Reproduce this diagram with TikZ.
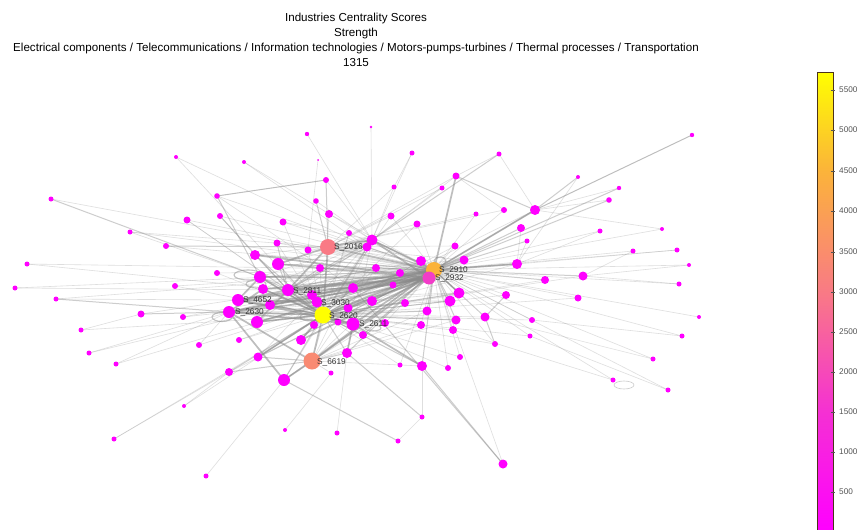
\documentclass[tikz,border=0pt]{standalone}
\usepackage{fontspec}
\setmainfont{Liberation Sans}
\definecolor{mag}{HTML}{FF00FF}
\definecolor{cyel}{HTML}{FFFF00}
\definecolor{corg}{HTML}{FBB33A}
\definecolor{csal}{HTML}{F97A85}
\definecolor{csal2}{HTML}{F98A72}
\definecolor{cpink}{HTML}{F23CC8}
\definecolor{edgec}{HTML}{8A8A8A}
\definecolor{labc}{HTML}{333333}
\definecolor{tickc}{HTML}{555555}
\pgfdeclarelayer{edgelayer}
\pgfsetlayers{edgelayer,main}
\tikzset{
  dot/.style={circle, inner sep=0pt, draw=none, fill=mag},
  le/.style={draw=edgec, line width=0.6pt, opacity=0.28},
  me/.style={draw=edgec, line width=1.0pt, opacity=0.42},
  de/.style={draw=edgec, line width=1.7pt, opacity=0.55},
  loopc/.style={draw=edgec, line width=1.1pt, opacity=0.5},
  lab/.style={font=\fontsize{8.3}{9}\selectfont, text=labc, inner sep=0pt, anchor=west},
  ttl/.style={font=\fontsize{11.6}{13}\selectfont, inner sep=0pt, anchor=base},
  cbl/.style={font=\fontsize{8.2}{9}\selectfont, text=tickc, inner sep=0pt, anchor=west}
}
\begin{document}
\begin{tikzpicture}[x=1pt,y=-1pt]
\useasboundingbox (0,0) rectangle (857,530);
% title
\node[ttl] (t1) at (356,21.5) {Industries Centrality Scores};
\node[ttl] (t2) at (356,36.5) {Strength};
\node[ttl] (t3) at (356,51.5) {Electrical components / Telecommunications / Information technologies / Motors-pumps-turbines / Thermal processes / Transportation};
\node[ttl] (t4) at (356,66.5) {1315};
% hubs
\node[dot, fill=cyel, minimum size=17pt] (A2620) at (323,315) {};
\node[dot, fill=corg, minimum size=16pt] (A2910) at (434,270) {};
\node[dot, fill=csal, minimum size=16pt] (A2016) at (328,247) {};
\node[dot, fill=csal2, minimum size=17pt] (A6619) at (312,361) {};
\node[dot, fill=cpink, minimum size=13pt] (A2932) at (429,278) {};
\node[dot, minimum size=13pt] (A2611) at (353,324) {};
\node[dot, minimum size=12pt] (A2811) at (288,290) {};
\node[dot, minimum size=11pt] (A3030) at (317,302) {};
\node[dot, minimum size=12pt] (A4652) at (238,300) {};
\node[dot, minimum size=12pt] (A2630) at (229,312) {};
% other nodes
\foreach \n/\x/\y/\r in {
p1/371/127/1.3, p2/307/134/2.2, p3/176/157/2, p4/244/162/2, p5/318/160/1,
p6/692/135/2.2, p7/412/153/2.5, p8/499/154/2.5, p9/456/176/3.5, p10/394/187/2.5,
p11/442/188/2.5, p12/578/177/2, p13/619/188/2.2, p14/609/200/2.8, p15/535/210/5,
p16/504/210/3, p17/476/214/2.5, p18/521/228/4, p19/527/241/2.5, p20/600/231/2.5,
p21/662/229/2, p22/326/180/3, p23/51/199/2.5, p24/217/196/2.8, p25/316/201/2.8,
p26/329/214/4, p27/391/216/3.5, p28/417/224/3.5, p29/187/220/3.5, p30/220/216/3,
p31/283/222/3.5, p32/130/232/2.5, p33/349/233/3, p34/166/246/3, p35/277/243/3.5,
p36/372/240/5.5, p37/367/247/4.5, p38/308/250/3.5, p39/255/255/5, p40/455/246/3.5,
p41/464/260/4.5, p42/517/264/5, p43/633/251/2.5, p44/677/250/2.5, p45/689/265/2,
p46/27/264/2.5, p47/278/264/6, p48/320/268/4, p49/376/268/4, p50/400/273/4,
p51/421/261/5, p52/217/273/3, p53/260/277/6, p54/583/276/4.5, p55/545/280/4,
p56/679/284/2.5, p57/15/288/2.5, p58/175/286/3, p59/263/289/5, p60/353/288/5,
p61/393/285/3.5, p62/459/293/5.5, p63/506/295/4, p64/578/298/3.5, p65/56/299/2.5,
p66/270/305/5, p67/312/295/5, p68/372/301/5, p69/405/303/4, p70/450/301/5.5,
p71/141/314/3.5, p72/183/317/3, p73/348/308/4.5, p74/427/311/4.5, p75/485/317/4.5,
p76/456/320/4.5, p77/532/320/3, p78/699/317/2, p79/257/322/6, p80/314/325/4,
p81/338/322/3.5, p82/385/323/4, p83/421/325/4, p84/453/330/4, p85/530/336/2.5,
p86/682/336/2.5, p87/81/330/2.5, p88/363/335/4, p89/199/345/3, p90/239/340/3,
p91/301/340/5, p92/495/344/3, p93/89/353/2.5, p94/258/357/4.5, p95/347/353/5,
p96/460/357/3, p97/653/359/2.5, p98/116/364/2.5, p99/229/372/4, p100/284/380/6,
p101/331/373/2.5, p102/400/365/2.5, p103/422/366/5, p104/448/368/3, p105/613/380/2.5,
p106/668/390/2.5, p107/184/406/2, p108/422/417/2.5, p109/285/430/2, p110/337/433/2.5,
p111/398/441/2.5, p112/114/439/2.5, p113/503/464/4.5, p114/206/476/2.5}
  \node[dot, minimum size=2*\r pt] (\n) at (\x,\y) {};
% labels
\node[lab] (l2016) at (334,247) {S\_2016};
\node[lab] (l2910) at (439,270) {S\_2910};
\node[lab] (l2932) at (435,278) {S\_2932};
\node[lab] (l2811) at (293,291) {S\_2811};
\node[lab] (l4652) at (243,300) {S\_4652};
\node[lab] (l2630) at (235,312) {S\_2630};
\node[lab] (l3030) at (321,303) {S\_3030};
\node[lab] (l2620) at (329,316) {S\_2620};
\node[lab] (l2611) at (359,324) {S\_2611};
\node[lab] (l6619) at (317,362) {S\_6619};
% edges
\begin{pgfonlayer}{edgelayer}
\fill[white] (0,0) rectangle (857,530);
\foreach \a/\b in {p1/p36, p2/p36, p3/p37, p4/p36, p5/p38, p6/p15, p7/p36, p7/p10, p8/p15, p8/p9,
 p9/p16, p9/p36, p10/p36, p11/p36, p12/p42, p13/p15, p14/p15, p16/A2910, p17/A2910, p18/p42,
 p19/p42, p20/A2910, p21/A2910, p22/p24, p22/p36, p24/p60, p25/p36, p26/A2910, p27/A2910, p28/A2910,
 p29/A2811, p29/A2620, p30/p39, p31/A2910, p31/p36, p32/A2016, p32/p67, p33/A2910, p35/A2620, p38/A2910,
 p40/A2910, p43/A2910, p44/A2910, p45/A2910, p46/A2811, p48/A2910, p50/A2910, p52/A2620, p56/A2910, p57/A2811,
 p58/A2620, p61/A2910, p63/A2910, p64/A2910, p65/A4652, p69/A2910, p72/A2630, p77/A2620, p78/A2910, p80/A2620,
 p81/A2620, p82/A2620, p83/A2620, p84/A2620, p85/A2620, p86/p77, p87/p71, p89/A2630, p90/A2620, p92/A2620,
 p93/A2630, p96/A2620, p97/p75, p98/A2630, p101/A6619, p102/A2620, p104/A2620, p105/p84, p106/p85, p107/p99,
 p108/p103, p108/p111, p109/p101, p110/p95, p112/p99, p114/p100, p3/A2620, p4/p37, p23/A2910, p46/A2910,
 p57/A2910, p65/A2910, p34/A2910, p24/A2910, p29/A2910, p32/A2910, p58/A2910, p72/A2910, p71/A2910, p87/A2620,
 p93/A2910, p98/A2910, p89/A2910, p90/A2910, p99/A2910, p107/A2620, p112/A2620, p63/A2620, p64/A2620, p69/A2620,
 p61/A2620, p50/A2620, p49/A2620, p48/A2620, p40/A2620, p33/A2620, p38/A2620, p26/A2620, p27/A2620, p28/A2620,
 p31/A2620, p35/A2910, p52/A2910, p30/A2910, p39/p36, p47/p36, p53/p36, p59/p36, p66/p36, p79/p36,
 p94/p36, p95/p36, p100/p36, p91/p36, p77/A2910, p85/A2910, p84/A2910, p83/A2910, p82/A2910, p80/A2910,
 p81/A2910, p92/A2910, p96/A2910, p104/A2910, p102/A2910, p105/A2910, p106/A2910, p97/A2910, p86/A2910, p113/A2910,
 p45/p54, p56/p54, p44/p42, p43/p54, p21/p15, p20/p42, p55/A2620, p54/A2620, p42/A2620, p62/A2630,
 p70/A2630, p76/A2630, p74/A2630, p75/A2630, p41/A2630, p51/A2630, p62/A4652, p70/A4652, p15/A2620, p41/p53,
 p9/A2016, p11/A2016, p10/A2016, p17/A2016, p16/A2016, p27/A2016, p28/A2016, p40/A2016, p41/A2016, p51/A2016,
 p33/A6619, p36/A6619, p49/A6619, p61/A6619, p69/A6619, p74/A6619, p76/A6619, p83/A6619, p103/A6619, p100/A2910}
  \draw[le] (\a.center) -- (\b.center);
\foreach \a/\b in {p6/p15, p9/p15, p15/A2910, p14/A2910, p13/A2910, p12/p15, p18/A2910, p19/A2910, p42/A2910, p54/A2910,
 p55/A2910, p62/A2910, p70/A2910, p75/A2910, p76/A2910, p74/A2910, p41/A2910, p51/A2910, p36/A2910, p37/A2910,
 p49/A2910, p60/A2910, p67/A2910, p68/A2910, p73/A2910, p88/A2910, p95/A2910, p103/A2910, p94/A2910, p79/A2910,
 p66/A2910, p59/A2910, p53/A2910, p47/A2910, p39/A2910, p23/p53, p34/A2016, p22/A2016, p25/A2016, p24/p22,
 p37/A2016, p47/A2620, p53/A2620, p59/A2620, p66/A2620, p68/A2620, p70/A2620, p73/A2620, p74/A2620, p76/A2620,
 p79/A2620, p88/A2620, p91/A2620, p94/A2620, p95/A2620, p99/A2620, p100/A2620, p103/A2620, p39/A2620, p36/A2620,
 p41/A2620, p51/A2620, p62/A2620, p60/A2620, p67/A2620, p71/A2630, p111/p100, p99/A6619, p94/A6619, p100/A6619,
 p95/A6619, p113/p60, p103/p113, p108/p95, p24/p53, p30/A2811, p39/A2811, p35/A2811, p47/A2811, p53/A2811,
 p65/A2630, p75/p92, p63/p75, p8/p36, p36/A2811, p37/A2811, p48/A2811, p49/A2811, p60/A2811}
  \draw[me] (\a.center) -- (\b.center);
\foreach \a/\b in {A2620/A2910, A2620/A2016, A2620/A6619, A2620/A2811, A2620/A3030, A2620/A4652, A2620/A2630, A2620/A2611,
 A2910/A2016, A2910/A2811, A2910/A4652, A2910/A2630, A2910/A2611, A2910/A3030, A2016/A2811, A6619/A2630, A6619/p100,
 A2932/A2620, A2932/A2630, A2932/A4652, A2811/A4652, A2630/p100, A2932/A2811, A2932/A6619, A2932/p79, A2932/p53,
 A2932/p59, A2932/p66, A2932/p47, A2932/p39, A2932/p36, A2932/p67, A2932/p73, A2932/p91, A2910/p9, A2910/p15,
 A2910/p42, A2910/p62, A2910/p36, A2016/p36, A2611/p103, A2611/p95, A2611/A4652, A2611/A2630, A3030/A4652, A3030/A2630,
 A2620/p79, A2620/p53, A2620/p59, A2620/p94, A2620/p91, A2811/p79, A6619/A2910, A4652/p53, A2630/p59, A2016/p47}
  \draw[de] (\a.center) -- (\b.center);
% self loops
\draw[loopc] (248,275) ellipse [x radius=14, y radius=5];
\draw[loopc] (256,284) ellipse [x radius=10, y radius=4];
\draw[loopc] (222,317) ellipse [x radius=10, y radius=4.5];
\draw[loopc] (311,317) ellipse [x radius=11, y radius=4];
\draw[loopc] (373,328) ellipse [x radius=8, y radius=3];
\draw[loopc] (440,261) ellipse [x radius=6, y radius=4];
\draw[loopc] (362,244) ellipse [x radius=7, y radius=3];
\draw[le, opacity=0.45] (624,385) ellipse [x radius=10, y radius=4];
\end{pgfonlayer}
% colour bar
\shade[top color=cyel, bottom color=corg] (817,72) rectangle (833,171);
\shade[top color=corg, bottom color=csal] (817,171) rectangle (833,292);
\shade[top color=csal, bottom color=cpink!80!mag] (817,292) rectangle (833,412);
\shade[top color=cpink!80!mag, bottom color=mag] (817,412) rectangle (833,531);
\draw[draw=black!60!brown, line width=0.6pt] (817,72) rectangle (833,531);
\foreach \v/\yy in {5500/90, 5000/130, 4500/171, 4000/211, 3500/252, 3000/292, 2500/332, 2000/372, 1500/412, 1000/452, 500/492}{
  \draw[tickc, line width=0.5pt] (831,\yy) -- (835,\yy);
  \node[cbl] (c\v) at (839,\yy) {\v};
}
\end{tikzpicture}
\end{document}
